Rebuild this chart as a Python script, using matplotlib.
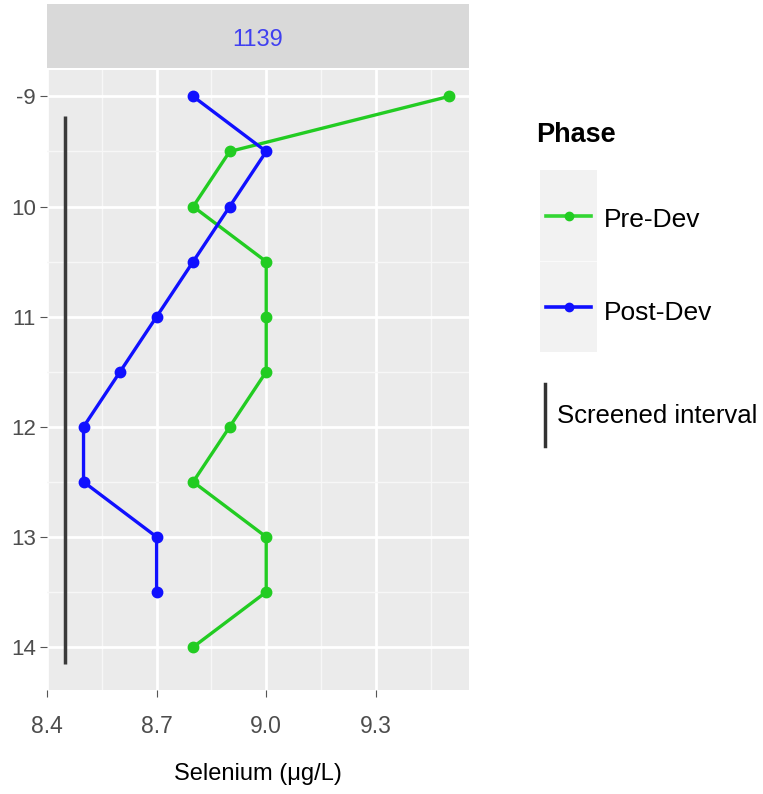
import matplotlib
matplotlib.use("Agg")
import matplotlib.pyplot as plt
from matplotlib.lines import Line2D

plt.rcParams['font.family'] = ['Liberation Sans', 'DejaVu Sans']

# depth (ft) vs selenium for well 1139
pre_depth = [9, 9.5, 10, 10.5, 11, 11.5, 12, 12.5, 13, 13.5, 14]
pre_se = [9.5, 8.9, 8.8, 9.0, 9.0, 9.0, 8.9, 8.8, 9.0, 9.0, 8.8]
post_depth = [9, 9.5, 10, 10.5, 11, 11.5, 12, 12.5, 13, 13.5]
post_se = [8.8, 9.0, 8.9, 8.8, 8.7, 8.6, 8.5, 8.5, 8.7, 8.7]
screen_x = 8.449
screen_top, screen_bot = 9.18, 14.15
x_ticks = [8.4, 8.7, 9.0, 9.3]
x_labels = ['8.4', '8.7', '9.0', '9.3']
y_ticks = [9, 10, 11, 12, 13, 14]
y_labels = ['-9', '10', '11', '12', '13', '14']
well = '1139'

W, H = 763, 794
fig = plt.figure(figsize=(W / 100, H / 100), dpi=100)

# panel
ax = fig.add_axes([47 / W, (H - 690) / H, 422 / W, (690 - 70) / H])
ax.set_facecolor('#EBEBEB')
for s in ax.spines.values():
    s.set_visible(False)
ax.set_xlim(8.4, 9.555)
ax.set_ylim(14.39, 8.76)
ax.set_xticks(x_ticks)
ax.set_xticklabels(x_labels)
ax.set_yticks(y_ticks)
ax.set_yticklabels(y_labels)
ax.set_xticks([8.55, 8.85, 9.15, 9.45], minor=True)
ax.set_yticks([9.5, 10.5, 11.5, 12.5, 13.5], minor=True)
ax.grid(which='major', color='white', lw=2.0)
ax.grid(which='minor', color='#F7F7F7', lw=1.0)
ax.set_axisbelow(True)
ax.tick_params(axis='x', which='major', length=5, color='#555555', labelsize=16.5,
               labelcolor='#4D4D4D', pad=13)
ax.tick_params(axis='y', which='major', length=5, color='#555555', labelsize=16,
               labelcolor='#4D4D4D', pad=3)
ax.tick_params(which='minor', length=0)

ax.plot([screen_x, screen_x], [screen_top, screen_bot], color='#3A3A3A', lw=2.5, solid_capstyle='butt')
ax.plot(pre_se, pre_depth, color='#22CC22', lw=2.4, marker='o', ms=7.5)
ax.plot(post_se, post_depth, color='#1010FF', lw=2.4, marker='o', ms=7.5)
ax.set_xlabel('Selenium (\u03bcg/L)', fontsize=17, color='black', labelpad=18)

# strip
sax = fig.add_axes([47 / W, (H - 68) / H, 422 / W, 64 / H])
sax.set_facecolor('#D9D9D9')
sax.set_xticks([])
sax.set_yticks([])
for s in sax.spines.values():
    s.set_visible(False)
sax.text(0.5, 0.44, well, transform=sax.transAxes, ha='center', va='center',
         fontsize=17, color='#4040F0')

# legend
fig.text(536 / W, 1 - 135 / H, 'Phase', fontsize=19.5, fontweight='bold', va='center')
lax = fig.add_axes([540 / W, (H - 352) / H, 57 / W, 182 / H])
lax.set_xlim(0, 1)
lax.set_ylim(0, 2)
lax.axis('off')
lax.add_patch(plt.Rectangle((0, 1.01), 1, 0.99, color='#F2F2F2'))
lax.add_patch(plt.Rectangle((0, 0), 1, 0.99, color='#F2F2F2'))
lax.plot([0.1, 0.9], [1.5, 1.5], color='#33D633', lw=2.6)
lax.plot([0.5], [1.5], 'o', color='#22CC22', ms=6)
lax.plot([0.1, 0.9], [0.5, 0.5], color='#1010FF', lw=2.6)
lax.plot([0.5], [0.5], 'o', color='#1010FF', ms=6)
fig.text(604 / W, 1 - 220 / H, 'Pre-Dev', fontsize=19, va='center')
fig.text(604 / W, 1 - 313 / H, 'Post-Dev', fontsize=19, va='center')
fig.add_artist(Line2D([545 / W, 545 / W], [1 - 384 / H, 1 - 446 / H], color='#333333', lw=2.5))
fig.text(557 / W, 1 - 416 / H, 'Screened interval', fontsize=18.5, va='center')

fig.savefig('out.png', dpi=100)
